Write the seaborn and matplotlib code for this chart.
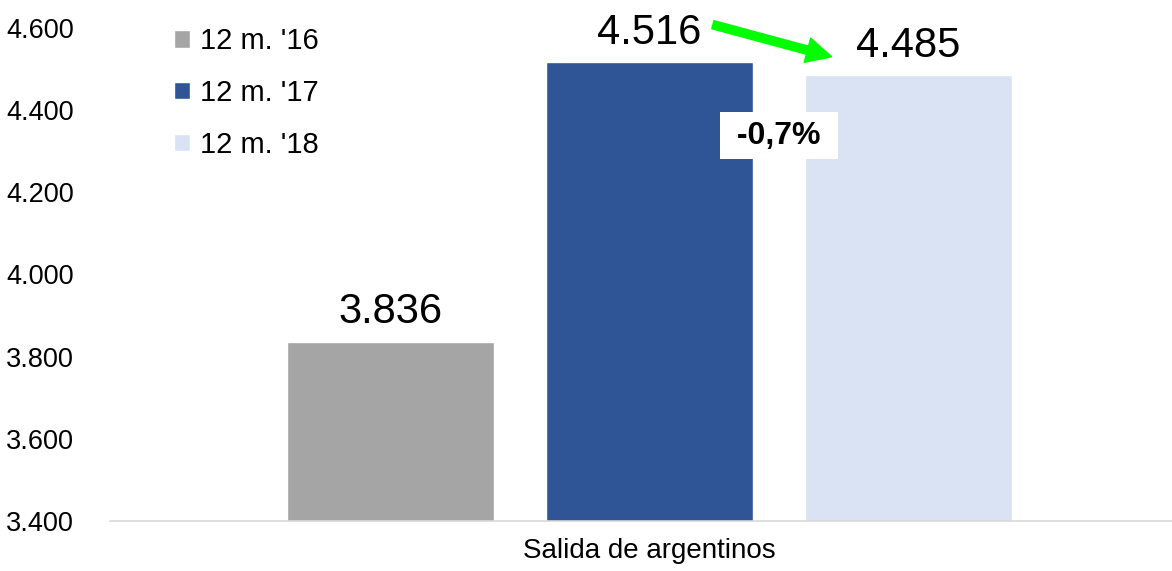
import pandas as pd
import seaborn as sns
import matplotlib.pyplot as plt
from matplotlib.ticker import FuncFormatter

categoria = ['Salida de argentinos']
periodos = ["12 m. '16", "12 m. '17", "12 m. '18"]
valores = [3836, 4516, 4485]
colores = ['#A5A5A5', '#2F5597', '#DAE3F3']
variacion = '-0,7%'

df = pd.DataFrame({
    'categoria': categoria * len(periodos),
    'periodo': periodos,
    'valor': valores,
})

sns.set_style('white')
plt.rcParams['font.family'] = ['Liberation Sans', 'DejaVu Sans']
plt.rcParams['text.color'] = 'black'
plt.rcParams['xtick.color'] = 'black'
plt.rcParams['ytick.color'] = 'black'

fig = plt.figure(figsize=(11.72, 5.71), dpi=100)
ax = fig.add_axes([0.094, 0.0876, 0.906, 0.8634])

sns.barplot(data=df, x='categoria', y='valor', hue='periodo', palette=colores,
            width=0.732, gap=0.2, saturation=1, ax=ax)

miles = lambda v: f'{v:,.0f}'.replace(',', '.')
for cont in ax.containers:
    ax.bar_label(cont, labels=[miles(b.get_height()) for b in cont],
                 padding=7, fontsize=30)

ax.set_ylim(3400, 4600)
ax.set_xlim(-0.508, 0.492)
ax.set_yticks(range(3400, 4601, 200))
ax.yaxis.set_major_formatter(FuncFormatter(lambda v, p: miles(v)))
ax.tick_params(axis='y', labelsize=19.5, length=0, pad=26)
ax.tick_params(axis='x', labelsize=20, length=0, pad=12)
ax.set_xlabel('')
ax.set_ylabel('')
for s in ['top', 'right', 'left']:
    ax.spines[s].set_visible(False)
ax.spines['bottom'].set_color('#D9D9D9')
ax.spines['bottom'].set_linewidth(1.2)

# flecha verde y variación
x17 = ax.patches[1].get_x() + ax.patches[1].get_width()
x18 = ax.patches[2].get_x()
ax.annotate('', xy=(x18 + 0.025, valores[2] + 45), xytext=(x17 - 0.038, valores[1] + 92),
            arrowprops=dict(facecolor='#00FF00', edgecolor='#00FF00',
                            width=6, headwidth=18, headlength=18, shrink=0),
            annotation_clip=False)
ax.text((x17 + x18) / 2, 4338, ' ' + variacion + ' ', fontsize=23, fontweight='bold',
        ha='center', va='center',
        bbox=dict(facecolor='white', edgecolor='none', pad=6))

leg = ax.legend(loc='upper left', bbox_to_anchor=(0.035, 1.055), frameon=False,
                fontsize=21, handlelength=0.55, handleheight=0.55,
                labelspacing=0.82, handletextpad=0.35)

fig.savefig('out.png', dpi=100)
